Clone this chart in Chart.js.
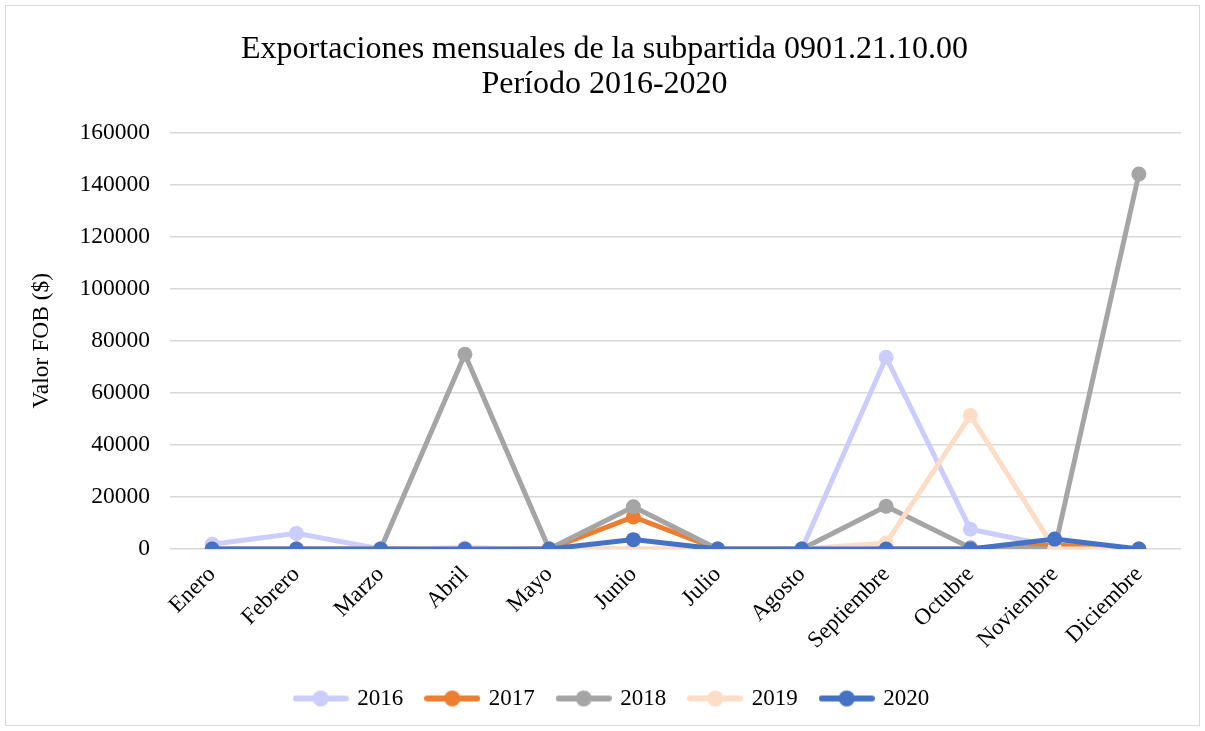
<!DOCTYPE html>
<html lang="es">
<head>
<meta charset="UTF-8">
<title>Exportaciones mensuales</title>
<script src="https://cdn.jsdelivr.net/npm/chart.js@4.4.0/dist/chart.umd.min.js"></script>
<style>
  body { margin: 0; background: #fff; }
  #wrap { width: 1205px; height: 731px; position: relative; }
</style>
</head>
<body>
<div id="wrap"><canvas id="myChart" width="1205" height="731"></canvas></div>
<script>
  const meses = ['Enero', 'Febrero', 'Marzo', 'Abril', 'Mayo', 'Junio', 'Julio', 'Agosto', 'Septiembre', 'Octubre', 'Noviembre', 'Diciembre'];
  const anios = ['2016', '2017', '2018', '2019', '2020'];
  const v2016 = [1800, 6000, 0, 0, 0, 0, 0, 0, 73600, 7600, 1000, 0];
  const v2017 = [0, 0, 0, 300, 0, 12300, 0, 0, 0, 0, 1500, 0];
  const v2018 = [0, 0, 0, 74800, 0, 16200, 0, 0, 16400, 500, 0, 144000];
  const v2019 = [0, 0, 0, 500, 0, 0, 0, 0, 2300, 51300, 0, 0];
  const v2020 = [0, 0, 0, 0, 0, 3600, 0, 0, 0, 0, 3800, 0];
  const colores = ['#CBCDFE', '#ED7D31', '#A5A5A5', '#FDDDC5', '#4472C4'];

  const serif = "'Liberation Serif', 'Times New Roman', serif";

  // marcador de leyenda: linea con circulo
  function marker(color) {
    const c = document.createElement('canvas');
    c.width = 56; c.height = 18;
    const g = c.getContext('2d');
    g.strokeStyle = color; g.lineWidth = 6; g.lineCap = 'round';
    g.beginPath(); g.moveTo(3, 9); g.lineTo(53, 9); g.stroke();
    g.fillStyle = color;
    g.beginPath(); g.arc(28, 9, 8, 0, Math.PI * 2); g.fill();
    return c;
  }

  const borde = {
    id: 'borde',
    beforeDraw(chart) {
      const ctx = chart.ctx;
      ctx.save();
      ctx.fillStyle = '#fff';
      ctx.fillRect(0, 0, chart.width, chart.height);
      ctx.strokeStyle = '#d9d9d9';
      ctx.lineWidth = 1;
      ctx.strokeRect(5.5, 5.5, 1194, 720);
      ctx.restore();
    }
  };

  // la leyenda del original esta un poco a la derecha
  const moverLeyenda = {
    id: 'moverLeyenda',
    afterLayout(chart) {
      chart.legend.left += 8;
      chart.legend.right += 8;
    }
  };

  const series = [v2016, v2017, v2018, v2019, v2020];
  const datasets = series.map((d, i) => ({
    label: anios[i],
    data: d,
    borderColor: colores[i],
    backgroundColor: colores[i],
    pointBackgroundColor: colores[i],
    pointBorderWidth: 0,
    pointRadius: 7.5,
    borderWidth: 5,
    fill: false,
    tension: 0,
    order: series.length - i,
    pointStyle: 'circle'
  }));

  new Chart(document.getElementById('myChart'), {
    type: 'line',
    data: { labels: meses, datasets: datasets },
    plugins: [borde, moverLeyenda],
    options: {
      responsive: false,
      animation: false,
      layout: { padding: { left: 28, right: 24, top: 14, bottom: 11 } },
      plugins: {
        title: {
          display: true,
          text: ['Exportaciones mensuales de la subpartida 0901.21.10.00', 'Período 2016-2020'],
          font: { family: serif, size: 32, weight: 'normal', lineHeight: 1.1 },
          color: '#000',
          padding: { top: 18, bottom: 30 }
        },
        legend: {
          position: 'bottom',
          labels: {
            usePointStyle: true,
            pointStyleWidth: 50,
            font: { family: serif, size: 23 },
            color: '#000',
            padding: 24,
            sort: (a, b) => a.datasetIndex - b.datasetIndex,
            generateLabels(chart) {
              return chart.data.datasets.map((ds, i) => ({
                text: ds.label,
                datasetIndex: i,
                pointStyle: marker(ds.borderColor),
                fillStyle: ds.borderColor,
                strokeStyle: ds.borderColor,
                lineWidth: 0,
                hidden: false
              }));
            }
          }
        },
        tooltip: { enabled: false }
      },
      scales: {
        x: {
          offset: true,
          grid: { display: false },
          border: { display: false },
          ticks: {
            autoSkip: false,
            maxRotation: 45,
            minRotation: 45,
            padding: 4,
            color: '#000',
            font: { family: serif, size: 23 }
          },
          afterFit(scale) { scale.height = 114; }
        },
        y: {
          min: 0,
          max: 160000,
          grid: { color: '#d9d9d9', lineWidth: 1.5, drawTicks: false },
          border: { display: false },
          ticks: {
            stepSize: 20000,
            padding: 20,
            color: '#000',
            font: { family: serif, size: 23.5 },
            callback: (v) => String(v)
          },
          title: {
            display: true,
            text: 'Valor FOB ($)',
            color: '#000',
            font: { family: serif, size: 23.5 },
            padding: { top: 0, bottom: 10 }
          },
          afterFit(scale) { scale.width = 142; }
        }
      }
    }
  });
</script>
</body>
</html>
